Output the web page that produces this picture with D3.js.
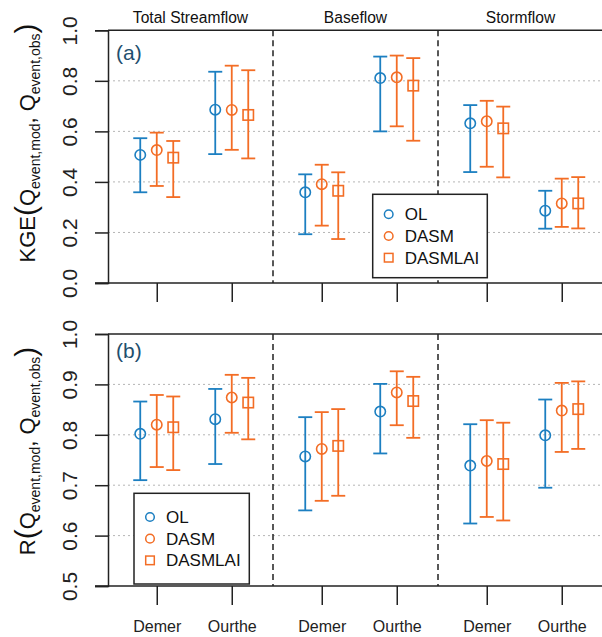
<!DOCTYPE html>
<html><head><meta charset="utf-8">
<script src="https://cdn.jsdelivr.net/npm/d3@7"></script>
<style>body{margin:0;background:#fff}svg{display:block;font-family:"Liberation Sans",Arial,Helvetica,sans-serif}</style>
</head><body>
<script>
// ---------------- data ----------------
const flowTypes = ["Total Streamflow", "Baseflow", "Stormflow"];
const catchments = ["Demer", "Ourthe"];
const methods = ["OL", "DASM", "DASMLAI"];
// order: TS-Demer, TS-Ourthe, BF-Demer, BF-Ourthe, SF-Demer, SF-Ourthe
const kgeOLMean      = [0.507, 0.686, 0.359, 0.811, 0.632, 0.286];
const kgeOLLow       = [0.359, 0.510, 0.193, 0.600, 0.439, 0.215];
const kgeOLHigh      = [0.573, 0.836, 0.430, 0.896, 0.704, 0.365];
const kgeDASMMean    = [0.526, 0.685, 0.391, 0.814, 0.640, 0.315];
const kgeDASMLow     = [0.384, 0.527, 0.227, 0.620, 0.460, 0.222];
const kgeDASMHigh    = [0.595, 0.860, 0.468, 0.900, 0.721, 0.413];
const kgeDASMLAIMean = [0.496, 0.665, 0.365, 0.781, 0.612, 0.315];
const kgeDASMLAILow  = [0.340, 0.493, 0.174, 0.563, 0.418, 0.216];
const kgeDASMLAIHigh = [0.562, 0.842, 0.438, 0.890, 0.698, 0.419];

const rOLMean      = [0.802, 0.831, 0.757, 0.846, 0.739, 0.799];
const rOLLow       = [0.710, 0.742, 0.650, 0.763, 0.624, 0.695];
const rOLHigh      = [0.866, 0.891, 0.835, 0.901, 0.821, 0.870];
const rDASMMean    = [0.820, 0.874, 0.772, 0.884, 0.748, 0.848];
const rDASMLow     = [0.736, 0.804, 0.669, 0.819, 0.637, 0.766];
const rDASMHigh    = [0.879, 0.919, 0.845, 0.926, 0.829, 0.903];
const rDASMLAIMean = [0.815, 0.864, 0.778, 0.867, 0.742, 0.851];
const rDASMLAILow  = [0.730, 0.791, 0.679, 0.794, 0.630, 0.772];
const rDASMLAIHigh = [0.876, 0.913, 0.851, 0.915, 0.824, 0.906];

const kgeTicks = [0.0, 0.2, 0.4, 0.6, 0.8, 1.0];
const rTicks = [0.5, 0.6, 0.7, 0.8, 0.9, 1.0];

// ---------------- layout ----------------
const W = 602, H = 637;
const BLUE = "#1c7fc1", ORANGE = "#f36d25", LABEL = "#1f4f6e";
const methodColor = [BLUE, ORANGE, ORANGE];
const methodShape = ["circle", "circle", "square"];
const offsets = [-0.22, 0, 0.22];
const groupStep = 2.2;
const posOf = i => Math.floor(i / 2) * groupStep + (i % 2) + 1;

const svg = d3.select("body").append("svg").attr("width", W).attr("height", H);
const x = d3.scaleLinear().domain([0.35, 6.95]).range([108, 603]);

const panels = [
  { key: "a", y: d3.scaleLinear().domain([0, 1]).range([283, 30.3]), ticks: kgeTicks,
    series: [[kgeOLMean, kgeOLLow, kgeOLHigh], [kgeDASMMean, kgeDASMLow, kgeDASMHigh], [kgeDASMLAIMean, kgeDASMLAILow, kgeDASMLAIHigh]],
    legend: { x: 372.7, y: 194.3, w: 114.6, h: 83.4 }, labelY: 60, title: "KGE", titleCY: 143, xLabels: false },
  { key: "b", y: d3.scaleLinear().domain([0.5, 1]).range([586, 334]), ticks: rTicks,
    series: [[rOLMean, rOLLow, rOLHigh], [rDASMMean, rDASMLow, rDASMHigh], [rDASMLAIMean, rDASMLAILow, rDASMLAIHigh]],
    legend: { x: 134, y: 493.3, w: 115.3, h: 90.7 }, labelY: 358, title: "R", titleCY: 451, xLabels: true }
];

function drawMarker(g, shape, cx, cy, size, color, sw) {
  if (shape === "circle") {
    g.append("circle").attr("cx", cx).attr("cy", cy).attr("r", size)
      .attr("fill", "none").attr("stroke", color).attr("stroke-width", sw);
  } else {
    g.append("rect").attr("x", cx - size).attr("y", cy - size).attr("width", 2 * size).attr("height", 2 * size)
      .attr("fill", "none").attr("stroke", color).attr("stroke-width", sw);
  }
}

panels.forEach(p => {
  const y = p.y;
  const [y0, y1] = y.range();
  const g = svg.append("g");
  // gridlines
  g.selectAll(".grid").data(p.ticks.slice(1, -1)).join("line")
    .attr("x1", x.range()[0]).attr("x2", x.range()[1])
    .attr("y1", d => y(d)).attr("y2", d => y(d))
    .attr("stroke", "#b5b5b5").attr("stroke-width", 1).attr("stroke-dasharray", "2,3");
  // y axis
  const yAxis = d3.axisLeft(y).tickValues(p.ticks).tickFormat(d3.format(".1f")).tickSize(13).tickPadding(0);
  const ya = g.append("g").attr("transform", `translate(${x.range()[0]},0)`).call(yAxis);
  ya.select(".domain").attr("stroke", "#222").attr("stroke-width", 1.5);
  ya.selectAll(".tick line").attr("stroke", "#222").attr("stroke-width", 1.5);
  ya.selectAll(".tick text").attr("transform", "rotate(-90)").attr("x", 0).attr("y", -38)
    .attr("dy", "0.35em").attr("text-anchor", "middle").attr("font-size", 21).attr("fill", "#222")
    .attr("font-family", "Liberation Sans, Arial, sans-serif");
  // top box line
  g.append("line").attr("x1", x.range()[0]).attr("x2", x.range()[1]).attr("y1", y1).attr("y2", y1)
    .attr("stroke", "#222").attr("stroke-width", 1.5);
  // x axis
  const xAxis = d3.axisBottom(x).tickValues(d3.range(6).map(posOf)).tickSize(19)
    .tickFormat((d, i) => p.xLabels ? catchments[i % 2] : "").tickPadding(16);
  const xa = g.append("g").attr("transform", `translate(0,${y0})`).call(xAxis);
  xa.select(".domain").remove();
  g.append("line").attr("x1", x.range()[0] - 13).attr("x2", x.range()[1]).attr("y1", y0).attr("y2", y0)
    .attr("stroke", "#222").attr("stroke-width", 1.5);
  xa.selectAll(".tick line").attr("stroke", "#222").attr("stroke-width", 1.5);
  xa.selectAll(".tick text").attr("font-size", 16).attr("fill", "#222")
    .attr("font-family", "Liberation Sans, Arial, sans-serif");
  // separators
  [groupStep + 0.35, 2 * groupStep + 0.35].forEach(s => {
    g.append("line").attr("x1", x(s)).attr("x2", x(s)).attr("y1", y1).attr("y2", y0)
      .attr("stroke", "#222").attr("stroke-width", 1.5).attr("stroke-dasharray", "6,4");
  });
  // error bars + markers
  p.series.forEach((s, m) => {
    const [mean, low, high] = s;
    const col = methodColor[m];
    mean.forEach((v, i) => {
      const cx = x(posOf(i) + offsets[m]);
      g.append("line").attr("x1", cx).attr("x2", cx).attr("y1", y(low[i])).attr("y2", y(high[i]))
        .attr("stroke", col).attr("stroke-width", 1.8);
      [low[i], high[i]].forEach(e => g.append("line").attr("x1", cx - 7).attr("x2", cx + 7)
        .attr("y1", y(e)).attr("y2", y(e)).attr("stroke", col).attr("stroke-width", 1.8));
      drawMarker(g, methodShape[m], cx, y(v), 5.2, col, 1.6);
    });
  });
  // panel label
  g.append("text").attr("x", 116).attr("y", p.labelY).attr("font-size", 21).attr("fill", LABEL)
    .text(`(${p.key})`);
  // legend
  const L = p.legend;
  const lg = g.append("g");
  lg.append("rect").attr("x", L.x).attr("y", L.y).attr("width", L.w).attr("height", L.h)
    .attr("fill", "#fff").attr("stroke", "#222").attr("stroke-width", 1.5);
  const firstY = L.y + (L.h - 2 * 21.7) / 2;
  methods.forEach((name, m) => {
    const cy = firstY + m * 21.7;
    drawMarker(lg, methodShape[m], L.x + 16, cy, 4.3, methodColor[m], 1.5);
    lg.append("text").attr("x", L.x + 32).attr("y", cy).attr("dy", "0.36em")
      .attr("font-size", 17).attr("fill", "#111").text(name);
  });
  // y title
  const t = svg.append("text").attr("transform", `translate(35,${p.titleCY}) rotate(-90)`)
    .attr("text-anchor", "middle").attr("font-size", 22).attr("fill", "#111");
  t.append("tspan").text(p.title);
  t.append("tspan").attr("font-size", 30).attr("dy", 1).text("(");
  t.append("tspan").attr("dy", -1).text("Q");
  t.append("tspan").attr("font-size", 14).attr("dy", 5).text("event,mod");
  t.append("tspan").attr("dy", -5).text(",  Q");
  t.append("tspan").attr("font-size", 14).attr("dy", 5).text("event,obs");
  t.append("tspan").attr("font-size", 30).attr("dy", -4).text(")");
});

// group titles
flowTypes.forEach((name, gi) => {
  const a = gi * groupStep + 0.35, b = a + groupStep;
  svg.append("text").attr("x", x((a + b) / 2)).attr("y", 23).attr("text-anchor", "middle")
    .attr("font-size", 15.6).attr("fill", "#111").text(name);
});
</script>
</body></html>
